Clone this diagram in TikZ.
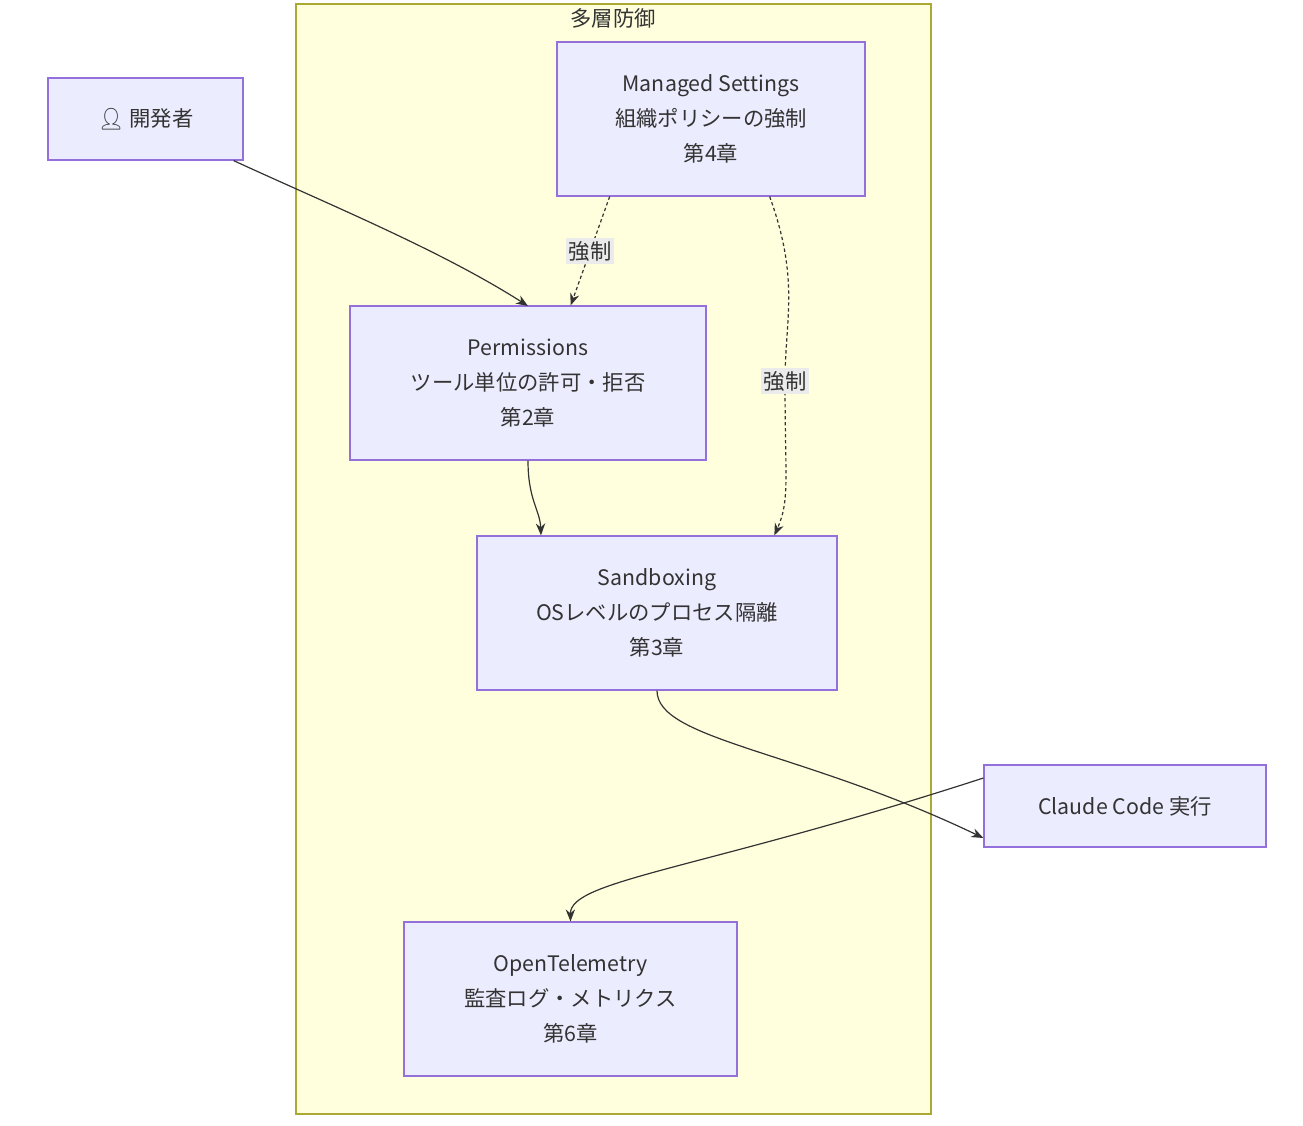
\documentclass[tikz,border=0pt]{standalone}
\usepackage{fontspec}
\setmainfont{Noto Sans CJK JP}
\newfontfamily\emojifont{Noto Emoji}
\usetikzlibrary{arrows.meta}
\definecolor{nfill}{HTML}{ECECFF}
\definecolor{nline}{HTML}{9370DB}
\definecolor{cfill}{HTML}{FFFFDE}
\definecolor{cline}{HTML}{AAAA33}
\definecolor{ecol}{HTML}{333333}
\begin{document}
\begin{tikzpicture}[x=0.75pt,y=-0.75pt,
  box/.style={draw=nline,fill=nfill,line width=0.9pt,align=center,font=\fontsize{16}{26}\selectfont,text=ecol},
  edge/.style={draw=ecol,line width=0.9pt,-{Stealth[length=9pt,width=7pt]}},
  dsh/.style={edge,dash pattern=on 2.5pt off 2pt},
  lbl/.style={fill=black!8,font=\fontsize{16}{20}\selectfont,text=ecol,inner sep=2pt}]
\useasboundingbox (0,0) rectangle (1303,1126);
\fill[cfill,draw=cline,line width=0.9pt] (296,4) rectangle (931,1114);
\node[font=\fontsize{16}{20}\selectfont,text=ecol] (title) at (613,18) {多層防御};
\node[box,minimum width=195*0.75pt,minimum height=82*0.75pt] (dev) at (145.5,119) {{\emojifont 👤} 開発者};
\node[box,minimum width=308*0.75pt,minimum height=154*0.75pt] (ms) at (711,119) {Managed Settings\\組織ポリシーの強制\\第4章};
\node[box,minimum width=356*0.75pt,minimum height=154*0.75pt] (perm) at (528,383) {Permissions\\ツール単位の許可・拒否\\第2章};
\node[box,minimum width=360*0.75pt,minimum height=154*0.75pt] (sand) at (657,613) {Sandboxing\\OSレベルのプロセス隔離\\第3章};
\node[box,minimum width=282*0.75pt,minimum height=82*0.75pt] (cc) at (1125,806) {Claude Code 実行};
\node[box,minimum width=333*0.75pt,minimum height=154*0.75pt] (ot) at (570.5,999) {OpenTelemetry\\監査ログ・メトリクス\\第6章};
\draw[edge] (dev.south east)++(-10,0) .. controls (330,205) and (440,250) .. (468,306 -| perm.north);
\draw[dsh] ([xshift=-76]ms.south) -- node[lbl,pos=0.5] (l1) {強制} ([xshift=32]perm.north);
\draw[dsh] ([xshift=44]ms.south) .. controls (800,280) and (785,320) .. (785,381) node[lbl] (l2) {強制} .. controls (785,480) and (790,500) .. ([xshift=88]sand.north);
\draw[edge] (perm.south) .. controls (528,500) and (540,510) .. ([xshift=-87]sand.north);
\draw[edge] (sand.south) .. controls (657,740) and (800,750) .. ([yshift=-24]cc.west);
\draw[edge] ([yshift=21]cc.west) .. controls (700,870) and (570,880) .. (ot.north);
\end{tikzpicture}
\end{document}
